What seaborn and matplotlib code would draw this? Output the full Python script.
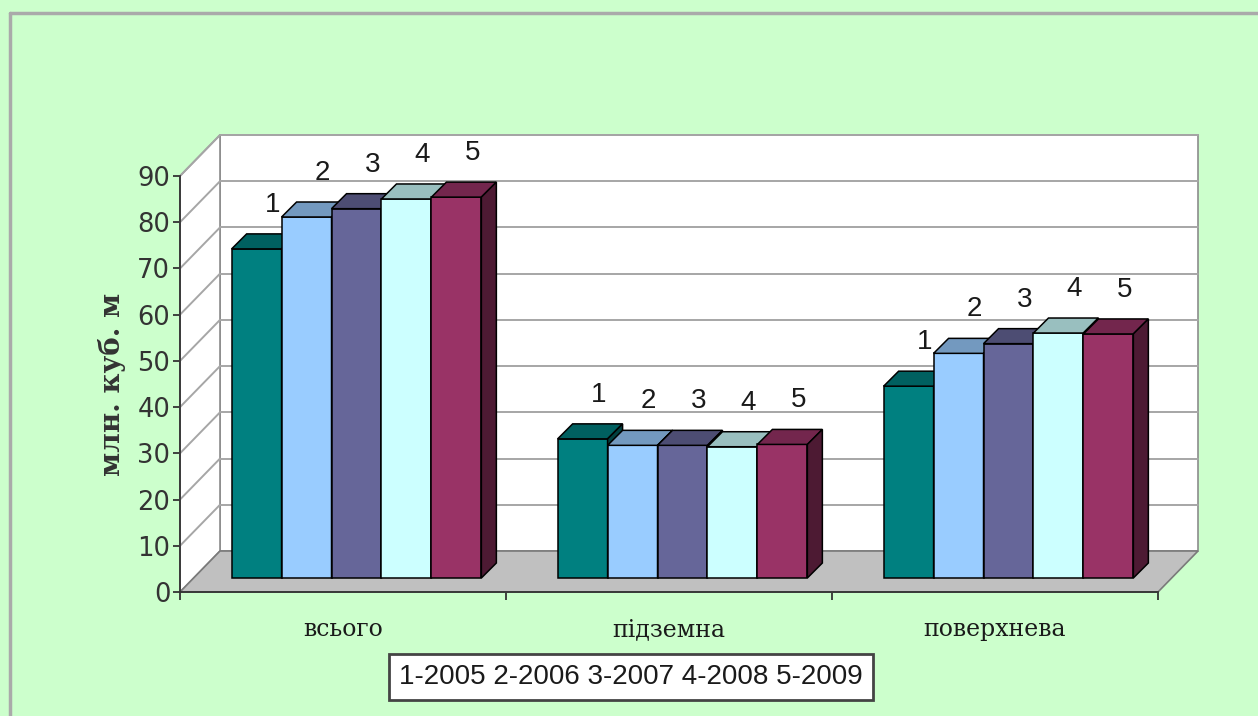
import numpy as np
import pandas as pd
import matplotlib
matplotlib.use("Agg")
import matplotlib.pyplot as plt
import matplotlib.colors as mcolors
from matplotlib.patches import Polygon
from matplotlib.lines import Line2D
from matplotlib.transforms import ScaledTranslation
import seaborn as sns

# ---- data -------------------------------------------------------------
categories = ["всього", "підземна", "поверхнева"]
series = ["1", "2", "3", "4", "5"]
years = ["2005", "2006", "2007", "2008", "2009"]
values_total = [71.2, 78.1, 79.9, 82.0, 82.4]
values_ground = [30.1, 28.7, 28.7, 28.4, 28.9]
values_surface = [41.5, 48.6, 50.7, 53.0, 52.8]
y_ticks = [0, 10, 20, 30, 40, 50, 60, 70, 80, 90]
y_label = "млн. куб. м"

front_colors = ["#008080", "#99CCFF", "#666699", "#CCFFFF", "#993366"]

rows = []
for cat, vals in zip(categories, [values_total, values_ground, values_surface]):
    for s, v in zip(series, vals):
        rows.append({"category": cat, "series": s, "value": v})
df = pd.DataFrame(rows)

# ---- figure -----------------------------------------------------------
sns.set_style("white")
plt.rcParams["font.family"] = ["DejaVu Sans"]

W, H = 1258, 716
fig = plt.figure(figsize=(W / 100, H / 100), dpi=100, facecolor="#CCFFCC")

# axes = front plane of the 3-D box (pixel geometry of the plot area)
ax_left, ax_right, ax_bottom, ax_top = 180, 1158, 592, 176
ax = fig.add_axes([ax_left / W, (H - ax_bottom) / H,
                   (ax_right - ax_left) / W, (ax_bottom - ax_top) / H])
ax.set_facecolor("none")

sns.barplot(data=df, x="category", y="value", hue="series",
            order=categories, hue_order=series, palette=front_colors,
            width=0.766, gap=0, saturation=1, dodge=True,
            edgecolor="black", linewidth=1.1, legend=False, ax=ax)
bars = sorted(ax.patches, key=lambda p: p.get_x())

ax.set_xlim(-0.5, 2.5)
ax.set_ylim(0, 90)

# pixel -> data unit helpers
px_x = 3.0 / (ax_right - ax_left)
px_y = 90.0 / (ax_bottom - ax_top)

# depth of the floor, offset of the bar row, depth of each bar (in pixels)
Dx, Dy = 40 * px_x, 41 * px_y
ox_px, oy_px = 13.5, 14
ox, oy = ox_px * px_x, oy_px * px_y
bx, by = 15 * px_x, 15 * px_y

# walls and floor
wall_kw = dict(clip_on=False, linewidth=1.2)
ax.add_patch(Polygon([(-0.5 + Dx, Dy), (2.5 + Dx, Dy), (2.5 + Dx, 90 + Dy),
                      (-0.5 + Dx, 90 + Dy)], closed=True, facecolor="white",
                     edgecolor="#8c8c8c", zorder=0.5, **wall_kw))
ax.add_patch(Polygon([(-0.5, 0), (-0.5, 90), (-0.5 + Dx, 90 + Dy),
                      (-0.5 + Dx, Dy)], closed=True, facecolor="white",
                     edgecolor="#8c8c8c", zorder=0.5, **wall_kw))
ax.add_patch(Polygon([(-0.5, 0), (2.5, 0), (2.5 + Dx, Dy), (-0.5 + Dx, Dy)],
                     closed=True, facecolor="#C0C0C0", edgecolor="#7a7a7a",
                     zorder=0.6, **wall_kw))

# gridlines on back wall and left wall
for v in y_ticks[1:]:
    ax.add_line(Line2D([-0.5 + Dx, 2.5 + Dx], [v + Dy, v + Dy], color="#a6a6a6",
                       linewidth=1.4, zorder=0.8, clip_on=False))
    ax.add_line(Line2D([-0.5, -0.5 + Dx], [v, v + Dy], color="#a6a6a6",
                       linewidth=1.4, zorder=0.8, clip_on=False))

# bars: shift front faces into the middle of the box, add top and side faces
shift = ax.transData + ScaledTranslation(ox_px / 100, oy_px / 100, fig.dpi_scale_trans)
for k, p in enumerate(bars):
    hue_i = k % len(series)
    base = np.array(mcolors.to_rgb(front_colors[hue_i]))
    z = 2 + k * 0.1
    p.set_transform(shift)
    p.set_clip_on(False)
    p.set_zorder(z)
    x0 = p.get_x() + ox
    x1 = x0 + p.get_width()
    h = p.get_height() + oy
    b = oy
    top = [(x0, h), (x1, h), (x1 + bx, h + by), (x0 + bx, h + by)]
    side = [(x1, b), (x1, h), (x1 + bx, h + by), (x1 + bx, b + by)]
    ax.add_patch(Polygon(top, closed=True, facecolor=base * 0.75,
                         edgecolor="black", linewidth=1.1, zorder=z + 0.03,
                         clip_on=False))
    ax.add_patch(Polygon(side, closed=True, facecolor=base * 0.5,
                         edgecolor="black", linewidth=1.1, zorder=z + 0.06,
                         clip_on=False))
    ax.annotate(series[hue_i], xy=(x0 + p.get_width() / 2, h),
                xytext=(16 * 0.72, 44 * 0.72), textcoords="offset points",
                ha="center", va="center", fontsize=20,
                family=["Liberation Sans"], color="#1a1a1a",
                zorder=10, annotation_clip=False)

# axes styling
for side_name in ["top", "right"]:
    ax.spines[side_name].set_visible(False)
ax.spines["left"].set_color("#333333")
ax.spines["left"].set_linewidth(1.3)
ax.spines["bottom"].set_color("#333333")
ax.spines["bottom"].set_linewidth(1.3)
for sp in ax.spines.values():
    sp.set_zorder(1)

ax.set_yticks(y_ticks)
ax.set_yticklabels([str(t) for t in y_ticks])
ax.tick_params(axis="y", direction="out", length=5, width=1.3, color="#333333",
               labelsize=18.5, labelcolor="#333333", pad=2, left=True)
ax.set_xticks(range(len(categories)))
ax.set_xticklabels(categories, family=["DejaVu Serif"], fontsize=17,
                   color="#1a1a1a")
ax.set_xticks([-0.5, 0.5, 1.5, 2.5], minor=True)
ax.tick_params(axis="x", which="major", length=0, pad=19)
ax.tick_params(axis="x", which="minor", direction="out", length=6, width=1.3,
               color="#333333", bottom=True)
ax.set_xlabel("")
ax.set_ylabel("")

fig.text(112 / W, 1 - 384 / H, y_label, rotation=90, ha="center", va="center",
         family=["DejaVu Serif"], fontweight="bold", fontsize=20,
         color="#333333")

# legend box with series keys
legend_text = " ".join(f"{s}-{y}" for s, y in zip(series, years))
fig.text(631 / W, 1 - 677 / H, legend_text, ha="center", va="center",
         family=["Liberation Sans"], fontsize=20, color="#1a1a1a",
         bbox=dict(boxstyle="square,pad=0.35", facecolor="white",
                   edgecolor="#444444", linewidth=2))

# chart-area frame
fig.add_artist(Line2D([10 / W, 1], [1 - 13 / H, 1 - 13 / H],
                      transform=fig.transFigure, color="#aaaaaa", linewidth=2.5))
fig.add_artist(Line2D([10 / W, 10 / W], [0, 1 - 13 / H],
                      transform=fig.transFigure, color="#aaaaaa", linewidth=2.5))

fig.savefig("out.png", dpi=100, facecolor=fig.get_facecolor())
